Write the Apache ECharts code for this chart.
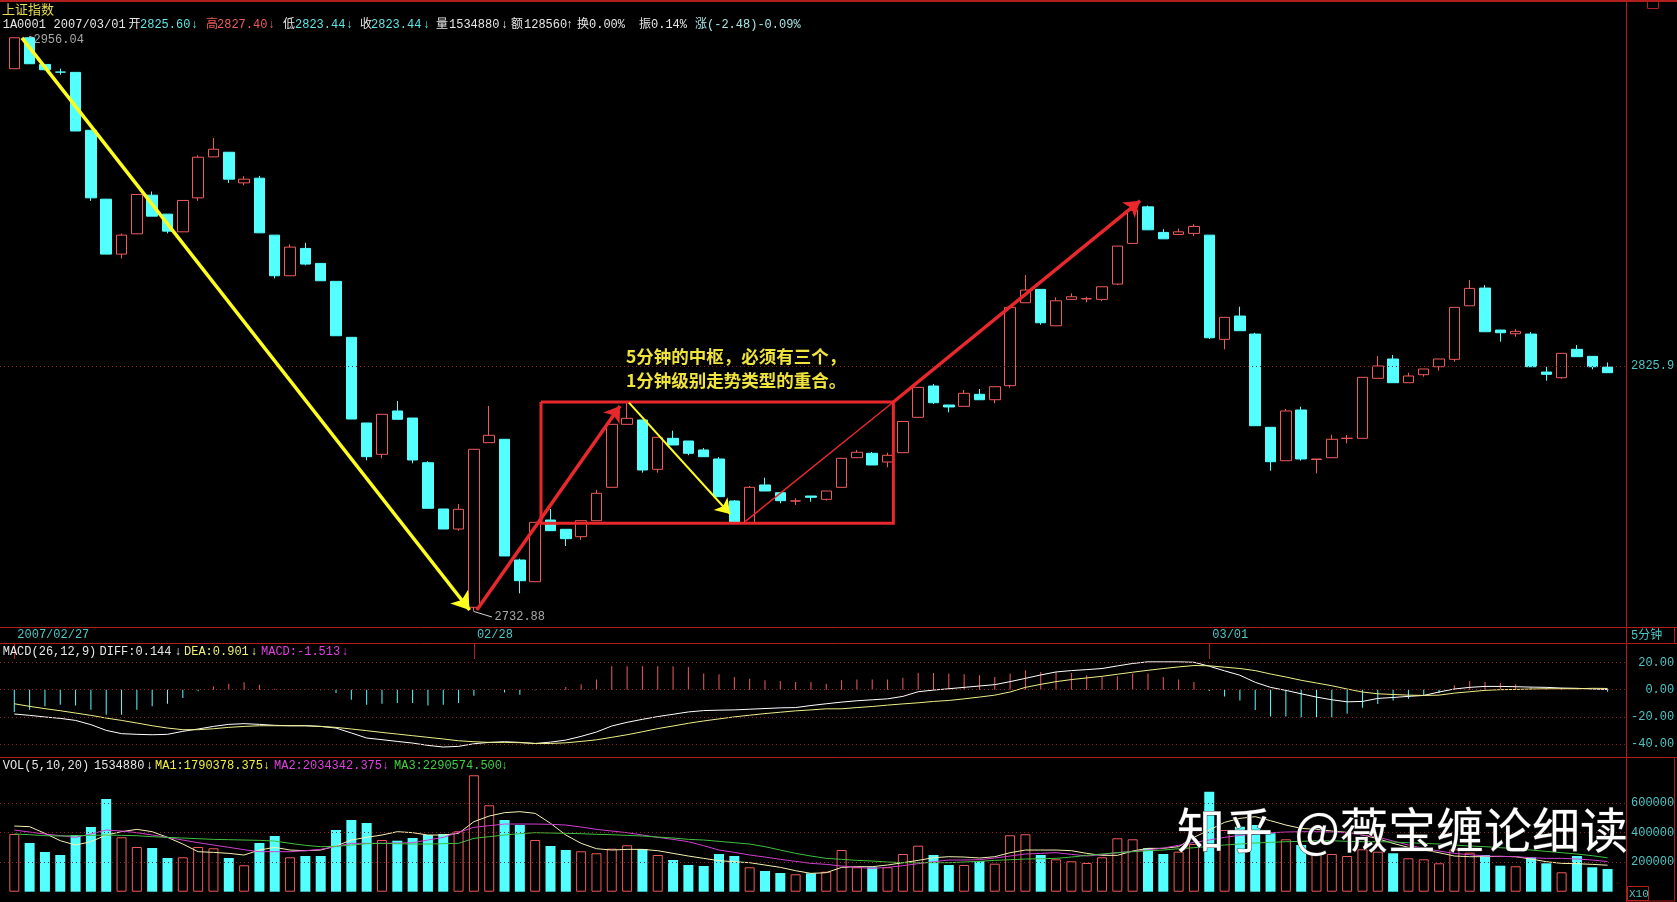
<!DOCTYPE html>
<html><head><meta charset="utf-8">
<script src="https://cdn.jsdelivr.net/npm/echarts@6/dist/echarts.min.js"></script>
<style>html,body{margin:0;padding:0;background:#000;overflow:hidden}#c{width:1677px;height:902px}</style>
</head><body><div id="c"></div>
<script>
// ---------------- data ----------------
const open = [2943.07,2955.52,2944.79,2941.71,2941.60,2918.44,2891.12,2869.52,2877.48,2892.70,
2885.22,2878.26,2891.64,2907.84,2909.70,2897.56,2899.41,2876.96,2861.05,2871.75,
2865.88,2858.86,2837.10,2804.12,2792.16,2808.72,2806.02,2788.96,2771.39,2763.83,
2734.45,2796.59,2797.89,2752.16,2744.02,2767.23,2763.72,2760.93,2766.97,2779.61,
2803.61,2805.27,2786.45,2798.26,2797.23,2793.81,2790.37,2774.42,2766.21,2780.49,
2777.56,2774.40,2776.31,2775.06,2779.61,2790.86,2792.54,2789.23,2792.77,2806.30,
2818.31,2811.02,2810.51,2815.12,2813.04,2818.43,2850.52,2855.74,2841.59,2851.85,
2852.05,2851.85,2857.81,2873.72,2888.09,2878.03,2877.24,2877.64,2876.96,2836.33,
2845.36,2838.37,2802.47,2789.72,2809.10,2790.18,2790.86,2798.22,2798.26,2821.28,
2828.72,2819.58,2822.66,2825.74,2828.60,2849.35,2856.25,2839.93,2838.50,2838.37,
2823.70,2821.50,2832.46,2829.75,2825.60];
const high = [2955.65,2956.04,2944.79,2943.07,2941.60,2918.44,2891.12,2877.64,2892.98,2894.16,
2885.22,2890.61,2908.51,2915.37,2909.70,2900.20,2900.32,2876.96,2873.32,2873.95,
2865.88,2858.86,2837.10,2804.12,2807.45,2812.55,2806.02,2789.50,2771.39,2773.28,
2794.07,2810.63,2797.89,2752.65,2766.36,2771.39,2763.72,2766.97,2778.59,2803.61,
2812.28,2805.27,2798.64,2801.17,2797.23,2794.56,2791.13,2774.80,2780.10,2783.26,
2777.56,2775.44,2776.31,2778.21,2790.64,2793.81,2793.04,2792.77,2804.69,2817.81,
2819.08,2811.02,2816.77,2817.15,2818.04,2848.74,2861.32,2855.74,2852.63,2854.18,
2852.86,2856.75,2872.66,2886.79,2888.64,2879.32,2879.59,2881.29,2876.96,2844.85,
2848.97,2838.88,2802.47,2809.48,2810.36,2790.37,2799.64,2799.52,2821.66,2829.87,
2830.26,2823.43,2824.86,2828.72,2848.74,2859.36,2857.42,2839.93,2840.32,2839.15,
2825.74,2830.91,2834.12,2829.75,2827.40];
const low = [2943.07,2945.07,2942.39,2940.67,2918.16,2890.45,2869.52,2867.84,2877.48,2884.43,
2877.64,2878.26,2890.45,2907.84,2897.56,2896.65,2877.87,2860.03,2861.05,2865.11,
2859.09,2837.72,2805.64,2789.87,2790.64,2805.53,2788.73,2771.65,2763.83,2763.20,
2732.88,2796.59,2753.67,2739.67,2744.02,2763.20,2757.43,2759.69,2766.97,2779.61,
2803.61,2785.16,2785.16,2795.71,2791.78,2791.25,2776.05,2766.21,2766.21,2778.21,
2773.55,2772.91,2774.16,2774.53,2779.61,2790.86,2788.09,2787.21,2792.77,2806.30,
2811.40,2808.21,2810.51,2813.04,2811.67,2817.66,2850.52,2841.98,2841.59,2851.85,
2850.68,2851.19,2857.42,2873.72,2879.05,2875.51,2877.24,2876.58,2836.44,2832.46,
2839.66,2803.08,2785.92,2789.72,2789.72,2784.93,2790.86,2796.35,2798.26,2821.28,
2819.58,2819.58,2821.89,2824.20,2827.67,2849.35,2839.27,2835.40,2837.34,2825.74,
2820.35,2821.12,2829.61,2824.75,2823.44];
const close = [2955.52,2945.07,2942.67,2941.71,2918.16,2891.64,2869.52,2876.96,2892.98,2884.43,
2878.53,2890.61,2907.72,2910.89,2899.02,2899.02,2877.87,2861.05,2872.26,2865.61,
2859.09,2837.72,2805.64,2791.25,2807.45,2805.53,2789.99,2771.65,2763.83,2771.28,
2794.07,2799.41,2753.67,2744.39,2766.36,2763.20,2760.18,2766.97,2777.34,2803.61,
2805.91,2786.18,2798.64,2795.71,2792.54,2791.25,2776.05,2766.21,2779.61,2778.21,
2774.53,2774.45,2775.82,2778.21,2790.64,2792.93,2788.09,2791.78,2804.69,2817.81,
2811.89,2810.25,2815.50,2813.04,2818.04,2848.74,2855.47,2842.76,2851.30,2852.86,
2852.10,2856.75,2872.66,2886.79,2879.05,2875.51,2878.26,2880.38,2836.94,2844.85,
2839.66,2803.08,2789.34,2808.72,2790.37,2790.37,2797.89,2798.28,2821.66,2826.02,
2819.58,2822.16,2824.86,2828.72,2848.74,2856.13,2839.27,2838.88,2839.42,2825.74,
2822.81,2830.91,2829.61,2825.74,2823.44];
const volume = [3898000,3291000,2683000,2480000,3831000,4372000,6264000,3676000,3020000,2953000,
2277000,2324000,3020000,2933000,2277000,1784000,3291000,3764000,2324000,2412000,
2412000,4169000,4845000,4642000,3493000,3446000,3629000,3831000,3898000,4081000,
7865000,5838000,4845000,4507000,3493000,3088000,2818000,2730000,2595000,2906000,
3135000,2885000,2480000,2142000,1804000,1737000,2547000,2412000,1649000,1399000,
1264000,1176000,1243000,1350000,2818000,1649000,1649000,1649000,2547000,3108000,
2480000,1804000,1804000,2074000,1892000,3811000,3879000,2480000,2189000,2054000,
1939000,2324000,3608000,3541000,2933000,2547000,2703000,3223000,6757000,4169000,
4392000,4507000,3946000,3541000,3156000,2547000,2547000,2412000,2865000,2703000,
2595000,2257000,2189000,1919000,2865000,2635000,2480000,1757000,1716000,2324000,
1919000,1311000,2412000,1649000,1534880];
const volMA5 = [4437000,4392000,3942000,3446000,3153000,3378000,3829000,4054000,4212000,4054000,
3671000,3221000,2703000,2658000,2590000,2478000,2815000,2996000,2815000,2770000,
2815000,3086000,3491000,3671000,3829000,4054000,3987000,3829000,3829000,3942000,
4730000,5113000,5338000,5406000,5293000,4617000,3829000,3266000,2905000,2815000,
2860000,2860000,2770000,2590000,2410000,2252000,2095000,2027000,1960000,1802000,
1644000,1419000,1239000,1284000,1644000,1689000,1689000,1802000,1960000,2117000,
2297000,2365000,2342000,2275000,2365000,2635000,2815000,2815000,2815000,2770000,
2590000,2455000,2455000,2748000,2928000,2928000,3041000,3671000,4167000,4685000,
4955000,5068000,4797000,4505000,4279000,4212000,4099000,4009000,3829000,3581000,
3266000,2996000,2815000,2635000,2410000,2365000,2365000,2387000,2365000,2207000,
2027000,1914000,1892000,1847000,1790378];
const volMA10 = [4167000,4032000,3896000,3784000,3671000,3896000,4167000,4099000,3987000,3829000,
3671000,3491000,3311000,3153000,2996000,2838000,2703000,2703000,2703000,2770000,
2860000,3063000,3266000,3266000,3266000,3288000,3311000,3491000,3671000,4009000,
4347000,4460000,4572000,4572000,4572000,4550000,4505000,4369000,4212000,4099000,
3987000,3829000,3671000,3536000,3378000,3108000,2815000,2658000,2478000,2342000,
2185000,2050000,1914000,1847000,1734000,1644000,1577000,1644000,1757000,1892000,
2027000,2140000,2140000,2162000,2275000,2410000,2545000,2590000,2635000,2523000,
2410000,2500000,2635000,2725000,2815000,2951000,3131000,3333000,3491000,3671000,
3806000,3896000,3987000,4032000,4054000,4054000,4032000,3987000,3829000,3694000,
3423000,3153000,2928000,2748000,2590000,2500000,2410000,2387000,2365000,2297000,
2252000,2252000,2207000,2140000,2034342];
const volMA20 = [3896000,3851000,3784000,3761000,3784000,3806000,3829000,3806000,3784000,3716000,
3671000,3626000,3581000,3536000,3514000,3491000,3469000,3423000,3266000,3131000,
3041000,3063000,3153000,3243000,3266000,3243000,3221000,3221000,3243000,3266000,
3604000,3716000,3829000,3919000,3987000,3964000,3942000,3919000,3874000,3851000,
3806000,3761000,3694000,3626000,3536000,3491000,3401000,3311000,3221000,3041000,
2815000,2590000,2410000,2252000,2185000,2117000,2072000,2005000,1960000,1960000,
1960000,1960000,2005000,2050000,2117000,2162000,2207000,2230000,2252000,2342000,
2455000,2545000,2635000,2703000,2770000,2815000,2905000,2973000,3063000,3153000,
3221000,3288000,3333000,3378000,3401000,3446000,3446000,3401000,3378000,3378000,
3356000,3311000,3266000,3221000,3153000,3086000,3041000,2973000,2905000,2815000,
2725000,2635000,2545000,2432000,2290574];
const diff = [-17.8,-18.8,-20.0,-21.0,-22.5,-25.6,-29.8,-32.2,-32.7,-33.0,
-32.7,-30.5,-28.8,-26.9,-25.4,-24.9,-25.4,-26.1,-26.4,-26.4,
-26.9,-28.1,-31.7,-35.4,-36.6,-37.9,-39.1,-40.8,-42.0,-41.5,
-39.6,-38.6,-38.1,-38.6,-39.4,-38.4,-36.9,-34.2,-31.0,-26.6,
-23.9,-21.7,-19.7,-18.0,-16.3,-15.3,-15.0,-14.8,-14.3,-13.8,
-13.3,-13.1,-11.6,-10.3,-9.1,-8.1,-7.4,-6.7,-4.9,-1.5,
-0.3,0.7,1.7,2.7,3.7,5.9,8.3,10.8,13.0,14.0,
14.7,15.5,17.4,19.2,20.4,20.4,20.4,20.1,17.2,13.8,
10.6,5.4,1.7,-0.5,-3.0,-5.4,-7.4,-8.9,-8.6,-6.4,
-5.7,-4.9,-4.2,-1.7,0.5,1.7,2.4,2.4,2.2,1.9,
1.7,1.2,1.0,0.5,0.144];
const dea = [-10.3,-12.2,-13.9,-15.4,-17.1,-18.8,-20.8,-22.5,-24.4,-26.4,
-28.1,-29.3,-29.3,-28.6,-27.6,-26.9,-26.4,-26.4,-26.4,-26.4,
-26.9,-27.6,-28.8,-30.0,-31.3,-32.5,-33.7,-34.9,-36.1,-37.4,
-38.1,-38.6,-38.6,-38.8,-39.4,-39.4,-38.9,-37.9,-36.7,-34.9,
-33.0,-30.8,-28.5,-26.6,-24.6,-22.9,-21.4,-19.9,-18.7,-17.5,
-16.5,-15.5,-14.8,-14.0,-14.0,-13.1,-12.3,-11.3,-10.4,-9.6,
-8.6,-7.9,-6.7,-5.4,-4.0,-1.7,1.7,3.9,5.9,7.4,
8.6,9.8,11.3,12.8,14.2,15.5,16.7,17.7,17.5,16.5,
15.5,14.0,11.5,9.3,6.9,4.9,2.9,0.5,-1.7,-3.0,
-3.5,-4.0,-4.2,-4.0,-2.5,-1.5,-0.5,0.0,0.2,0.5,
0.7,0.7,0.7,1.0,0.901];
const macd = [-16.4,-14.7,-12.2,-11.0,-11.5,-14.7,-18.3,-18.3,-14.7,-12.2,
-10.3,-6.1,-1.2,2.4,4.4,5.4,3.7,0.7,0.2,-0.2,
-0.5,-2.4,-7.3,-11.0,-10.3,-9.8,-9.8,-11.5,-11.0,-9.8,
-4.4,-0.2,-2.0,-3.7,-0.5,-0.3,1.9,3.9,7.4,17.2,
17.2,17.2,17.2,17.2,16.7,11.8,11.3,9.3,8.1,6.9,
6.4,5.6,5.6,4.4,6.9,7.4,7.4,7.4,8.8,12.3,
12.3,11.8,11.3,10.6,9.3,11.8,14.2,13.0,13.0,12.3,
10.6,9.3,9.8,11.8,11.8,9.3,7.4,5.6,-1.0,-4.9,
-7.9,-14.8,-19.7,-19.7,-20.2,-20.7,-20.2,-17.7,-13.3,-10.4,
-7.9,-6.7,-4.2,-2.5,3.2,6.4,5.6,4.9,3.9,1.9,
1.5,1.5,0.7,-0.3,-1.513];
const dateTickIndex = [0, 30, 78];
const dateTickLabels = ['2007/02/27', '02/28', '03/01'];
const priceRefLine = 2825.9;
const priceHigh = 2956.04, priceLow = 2732.88;
const macdTicks = [20, 0, -20, -40];
const volTicks = [6000000, 4000000, 2000000];

// annotation anchors in data units [bar index, price]
const yellowArrow1 = [[0.50, 2955.5], [29.72, 2733.44]];
const redArrow1 = [[30.19, 2733.44], [39.54, 2810.63]];
const yellowArrow2 = [[40.12, 2811.9], [46.72, 2769.5]];
const boxCorners = [[34.38, 2812.16], [57.38, 2812.16], [57.38, 2765.99], [34.38, 2765.99], [34.38, 2812.16]];
const redThin = [[47.70, 2766.6], [57.38, 2812.16]];
const redArrow2 = [[57.38, 2812.16], [73.48, 2890.45]];

// ---------------- layout / style ----------------
const C = {frame:'#b01e1e', grid:'#8e2222', up:'#f05a5a', down:'#54ffff', teal:'#4fc6c6',
  white:'#e6e6e6', yellow:'#f0f040', magenta:'#e040e0', green:'#40d040', label:'#cfcfcf', cyanTxt:'#5ee6e6'};
const MONO = '"Liberation Mono","DejaVu Sans Mono","Noto Sans CJK SC",monospace';
const UNIT = 15.32, X0 = 14.3, RIGHT = 1626;
const xMin = -X0 / UNIT, xMax = xMin + RIGHT / UNIT;
const N = open.length;

const candles = open.map((o, i) => [i, o, close[i], low[i], high[i]]);
const isUp = i => close[i] > open[i];
const volData = volume.map((v, i) => ({value: [i, v], itemStyle: isUp(i)
  ? {color: '#000', borderColor: C.up, borderWidth: 1}
  : {color: C.down, borderColor: C.down, borderWidth: 0}}));
const macdData = macd.map((v, i) => ({value: [i, v], itemStyle: {color: v >= 0 ? C.up : C.down}}));
const xy = arr => arr.map((v, i) => [i, v]);
const pad = s => s.padStart(6, ' ');
const cats = open.map((_, i) => String(i));
const isTick = idx => dateTickIndex.indexOf(idx) >= 0;

const valX = gi => ({type: 'value', gridIndex: gi, min: xMin, max: xMax, show: false});

function txt(text, x, y, color, size, extra) {
  return Object.assign({type: 'text', x: x, y: y, z: 50, silent: true,
    style: {text: text, fill: color, font: (size || 12) + 'px ' + MONO, textVerticalAlign: 'middle', verticalAlign: 'middle'}}, extra || {});
}
function hline(y, x1, x2) { return {type: 'line', silent: true, z: 40, shape: {x1: x1, y1: y, x2: x2, y2: y}, style: {stroke: C.frame, lineWidth: 1}}; }
function rect(x, y, w, h) { return {type: 'rect', silent: true, z: 40, shape: {x: x, y: y, width: w, height: h}, style: {fill: 'none', stroke: C.frame, lineWidth: 1}}; }

const infoPieces = [['1A0001',2.7,C.white],['2007/03/01',53.6,C.white],['开',128.5,C.white],['2825.60',140,C.cyanTxt],['↓',191,C.cyanTxt],
 ['高',206,C.up],['2827.40',217,C.up],['↓',268,C.up],['低',283,C.white],['2823.44',295,C.cyanTxt],['↓',346,C.cyanTxt],
 ['收',360,C.white],['2823.44',371,C.cyanTxt],['↓',423,C.cyanTxt],['量',436,C.white],['1534880',449,C.white],['↓',501,C.white],
 ['额',511,C.white],['128560',524,C.white],['↑',566,C.white],['换',577,C.white],['0.00%',589,C.white],
 ['振',639,C.white],['0.14%',651,C.white],['涨',695,'#a8e6e6'],['(-2.48)-0.09%',707,'#a8e6e6']];
const macdPieces = [['MACD(26,12,9)',2.7,C.white],['DIFF:0.144',99.5,C.white],['↓',174.5,C.white],['DEA:0.901',184,'#f0f070'],['↓',250.5,'#f0f070'],
 ['MACD:-1.513',261,C.magenta],['↓',341.5,C.magenta]];
const volPieces = [['VOL(5,10,20)',2.7,C.white],['1534880',94,C.white],['↓',146,C.white],['MA1:1790378.375',155,C.yellow],['↓',263,C.yellow],
 ['MA2:2034342.375',274,C.magenta],['↓',382,C.magenta],['MA3:2290574.500',394,C.green],['↓',501,C.green]];

const graphics = [
  {type: 'line', silent: true, z: 40, shape: {x1: 0, y1: 1, x2: 1677, y2: 1}, style: {stroke: C.frame, lineWidth: 2}},
  {type: 'line', silent: true, z: 40, shape: {x1: 1626.5, y1: 0, x2: 1626.5, y2: 902}, style: {stroke: C.frame, lineWidth: 1}},
  hline(627.5, 0, 1677), hline(643.5, 0, 1677), hline(757.5, 0, 1677),
  rect(1626.5, 627.5, 48, 16), rect(1626.5, 757.5, 48, 143.5), rect(1647.5, 0.5, 11, 8), rect(1627.5, 886.5, 21, 14),
  {type: 'text', x: 2, y: 9, z: 50, silent: true, style: {text: '上证指数', fill: '#e6dc50', font: '13px "Noto Sans CJK SC"', textVerticalAlign: 'middle', verticalAlign: 'middle'}},
  txt('5分钟', 1631, 635.5, C.teal, 12),
  txt('X10', 1629, 894, C.teal, 11),
  {type: 'text', x: 626, y: 356.5, z: 60, silent: true, style: {text: '5分钟的中枢，必须有三个，', fill: '#f0e43c', font: 'bold 17.5px "Noto Sans CJK SC"', textVerticalAlign: 'middle', verticalAlign: 'middle'}},
  {type: 'text', x: 626, y: 380, z: 60, silent: true, style: {text: '1分钟级别走势类型的重合。', fill: '#f0e43c', font: 'bold 17.5px "Noto Sans CJK SC"', textVerticalAlign: 'middle', verticalAlign: 'middle'}},
  {type: 'text', x: 1177, y: 830, z: 100, silent: true, style: {text: '知乎  @薇宝缠论细读', fill: '#ffffff', stroke: '#333', lineWidth: 1, font: '48px "Noto Sans CJK SC"', textVerticalAlign: 'middle', verticalAlign: 'middle'}}
];
infoPieces.forEach(p => graphics.push(txt(p[0], p[1], 24.5, p[2], 12)));
macdPieces.forEach(p => graphics.push(txt(p[0], p[1], 651.5, p[2], 12)));
volPieces.forEach(p => graphics.push(txt(p[0], p[1], 765.5, p[2], 12)));

const dotted = {color: C.grid, type: [1, 3], width: 1};
const gridLabel = {show: true, position: 'end', distance: 5, color: C.teal, fontFamily: MONO, fontSize: 12};

const arrowSeries = (coordsList, color, width, arrow, z) => ({
  type: 'lines', coordinateSystem: 'cartesian2d', xAxisIndex: 0, yAxisIndex: 0, silent: true, clip: false,
  polyline: coordsList[0].length > 2, z: z || 6,
  symbol: arrow ? ['none', 'arrow'] : ['none', 'none'], symbolSize: arrow || 0,
  lineStyle: {color: color, width: width, opacity: 1, curveness: 0},
  data: coordsList.map(c => ({coords: c}))
});

const option = {
  backgroundColor: '#000',
  animation: false,
  textStyle: {fontFamily: MONO},
  grid: [
    {left: 0, width: RIGHT, top: 36.5, height: 575},
    {left: 0, width: RIGHT, top: 643, height: 114},
    {left: 0, width: RIGHT, top: 757, height: 134.7},
    {left: X0 - UNIT / 2, width: UNIT * N, top: 627, height: 16}
  ],
  xAxis: [valX(0), valX(1), valX(2), {
    type: 'category', gridIndex: 3, position: 'top', data: cats, boundaryGap: true,
    axisLine: {show: false}, splitLine: {show: false},
    axisTick: {show: true, inside: true, length: 16, alignWithLabel: true, interval: isTick, lineStyle: {color: C.frame}},
    axisLabel: {show: true, inside: true, interval: isTick, align: 'left', verticalAlign: 'middle', margin: 8, padding: [0, 0, 0, 3],
      color: C.teal, fontFamily: MONO, fontSize: 12,
      formatter: (v, idx) => { const k = dateTickIndex.indexOf(idx); return k >= 0 ? dateTickLabels[k] : ''; }}
  }],
  yAxis: [
    {type: 'log', gridIndex: 0, min: priceLow, max: priceHigh, show: false},
    {type: 'value', gridIndex: 1, min: -49.3, max: 34.2, show: false},
    {type: 'value', gridIndex: 2, min: 0, max: 9100000, show: false},
    {type: 'value', gridIndex: 3, show: false}
  ],
  graphic: {elements: graphics},
  series: [
    {type: 'candlestick', xAxisIndex: 0, yAxisIndex: 0, data: candles, barWidth: 11, z: 3, silent: true,
      itemStyle: {color: '#000', color0: C.down, borderColor: C.up, borderColor0: C.down, borderWidth: 1},
      markLine: {silent: true, symbol: ['none', 'none'], lineStyle: dotted,
        label: Object.assign({}, gridLabel, {formatter: String(priceRefLine)}),
        data: [{yAxis: priceRefLine}]}},
    arrowSeries([redThin], '#e8282c', 1.5, 0, 6),
    arrowSeries([boxCorners], '#e8282c', 3, 0, 6),
    arrowSeries([redArrow1, redArrow2], '#e8282c', 3.5, 15, 7),
    arrowSeries([yellowArrow1], '#ffff1e', 3.5, 17, 7),
    arrowSeries([yellowArrow2], '#ffff1e', 2, 14, 7),
    arrowSeries([[[1, priceHigh], [1.25, 2955.6]], [[30, priceLow], [31.18, 2730.83]]], '#d0d0d0', 1, 0, 6),
    {type: 'scatter', xAxisIndex: 0, yAxisIndex: 0, silent: true, clip: false, symbolSize: 0, z: 8,
      label: {show: true, position: 'right', distance: 0, color: C.label, fontFamily: MONO, fontSize: 12, formatter: p => p.data[2]},
      data: [[1.25, 2954.8, priceHigh.toFixed(2)], [31.35, 2730.8, priceLow.toFixed(2)]]},
    // MACD
    {type: 'bar', xAxisIndex: 1, yAxisIndex: 1, data: macdData, barWidth: 1, silent: true, z: 2},
    {type: 'line', xAxisIndex: 1, yAxisIndex: 1, data: xy(diff), symbol: 'none', silent: true, z: 4,
      lineStyle: {color: '#ffffff', width: 1},
      markLine: {silent: true, symbol: ['none', 'none'], lineStyle: dotted, label: gridLabel,
        data: macdTicks.map(v => ({yAxis: v, label: {formatter: pad(v.toFixed(2))}}))}},
    {type: 'line', xAxisIndex: 1, yAxisIndex: 1, data: xy(dea), symbol: 'none', silent: true, z: 4,
      lineStyle: {color: '#eeee88', width: 1}},
    // VOL
    {type: 'bar', xAxisIndex: 2, yAxisIndex: 2, data: volData, barWidth: 10, silent: true, z: 2,
      markLine: {silent: true, symbol: ['none', 'none'], lineStyle: dotted, label: gridLabel,
        data: volTicks.map(v => ({yAxis: v, label: {formatter: pad(String(v / 10))}}))
          .concat([{yAxis: 0, lineStyle: {opacity: 0}, label: {formatter: pad('0')}}])}},
    {type: 'line', xAxisIndex: 2, yAxisIndex: 2, data: xy(volMA5), symbol: 'none', silent: true, z: 4, lineStyle: {color: '#f4f0b0', width: 1}},
    {type: 'line', xAxisIndex: 2, yAxisIndex: 2, data: xy(volMA10), symbol: 'none', silent: true, z: 4, lineStyle: {color: '#d040d0', width: 1}},
    {type: 'line', xAxisIndex: 2, yAxisIndex: 2, data: xy(volMA20), symbol: 'none', silent: true, z: 4, lineStyle: {color: '#40c040', width: 1}}
  ]
};
const chart = echarts.init(document.getElementById('c'), null, {renderer: 'canvas', width: 1677, height: 902});
chart.setOption(option);
</script>
</body></html>
